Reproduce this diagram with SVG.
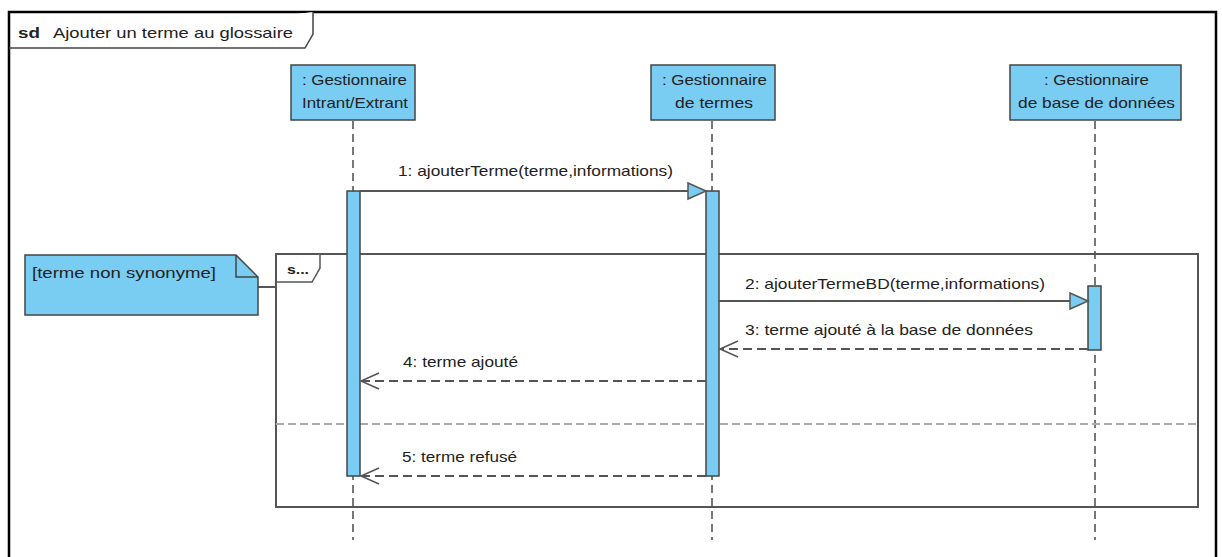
<svg xmlns="http://www.w3.org/2000/svg" width="1222" height="557" viewBox="0 0 1222 557">
<defs>
<style>
text{font-family:"Liberation Sans",Arial,sans-serif;font-size:15px;fill:#222}
.box{fill:#79cdf2;stroke:#444;stroke-width:1.5}
.life{stroke:#777;stroke-width:2;stroke-dasharray:8,5;fill:none}
.act{fill:#79cdf2;stroke:#444;stroke-width:1.5}
.msg{stroke:#555;stroke-width:2;fill:none}
.ret{stroke:#555;stroke-width:2;stroke-dasharray:9,5;fill:none}
.open{stroke:#555;stroke-width:1.5;fill:none}
.tri{fill:#79cdf2;stroke:#555;stroke-width:1.5}
</style>
</defs>
<rect width="1222" height="557" fill="#fff"/>
<g id="frame">
<path d="M9,560 V12 H1216 V560" fill="none" stroke="#000" stroke-width="2.5"/>
<path d="M9,48 H305 L313,34 V12" fill="#fff" stroke="#444" stroke-width="1.5"/>
<text x="18" y="38" style="font-weight:bold" textLength="22" lengthAdjust="spacingAndGlyphs">sd</text>
<text x="53" y="38" textLength="240" lengthAdjust="spacingAndGlyphs">Ajouter un terme au glossaire</text>
</g>
<g id="lifelines">
<line class="life" x1="353" y1="121" x2="353" y2="540"/>
<line class="life" x1="712" y1="121" x2="712" y2="540"/>
<line class="life" x1="1095" y1="121" x2="1095" y2="540"/>
</g>
<g id="fragment">
<rect x="276" y="254" width="922" height="253" fill="none" stroke="#555" stroke-width="2"/>
<path d="M276,282 H312 L320,268 V254" fill="#fff" stroke="#555" stroke-width="1.5"/>
<text x="287" y="274" style="font-weight:bold;font-size:13px" textLength="22" lengthAdjust="spacingAndGlyphs">s...</text>
<line x1="276" y1="424" x2="1198" y2="424" stroke="#aaa" stroke-width="2" stroke-dasharray="8,4"/>
</g>
<g id="note">
<line x1="258" y1="287" x2="276" y2="287" stroke="#555" stroke-width="2"/>
<path d="M25,255 H236 L258,277 V315 H25 Z" class="box"/>
<path d="M236,255 V277 H258" fill="none" stroke="#444" stroke-width="1.5"/>
<text x="32" y="278" textLength="184" lengthAdjust="spacingAndGlyphs">[terme non synonyme]</text>
</g>
<g id="lifeline1">
<rect class="box" x="291" y="65" width="124" height="55"/>
<text x="302" y="85" textLength="105" lengthAdjust="spacingAndGlyphs">: Gestionnaire</text>
<text x="302" y="108" textLength="106" lengthAdjust="spacingAndGlyphs">Intrant/Extrant</text>
<rect class="act" x="347" y="191" width="13" height="285"/>
</g>
<g id="lifeline2">
<rect class="box" x="651" y="65" width="124" height="55"/>
<text x="662" y="85" textLength="105" lengthAdjust="spacingAndGlyphs">: Gestionnaire</text>
<text x="675" y="108" textLength="78" lengthAdjust="spacingAndGlyphs">de termes</text>
<rect class="act" x="706" y="191" width="13" height="285"/>
</g>
<g id="lifeline3">
<rect class="box" x="1010" y="65" width="171" height="55"/>
<text x="1044" y="85" textLength="105" lengthAdjust="spacingAndGlyphs">: Gestionnaire</text>
<text x="1018" y="108" textLength="157" lengthAdjust="spacingAndGlyphs">de base de données</text>
<rect class="act" x="1088" y="286" width="13" height="64"/>
</g>
<g id="connectors">
<line class="msg" x1="360" y1="191" x2="689" y2="191"/>
<path class="tri" d="M688,183 L706,191 L688,199 Z"/>
<text x="398" y="176" textLength="275" lengthAdjust="spacingAndGlyphs">1: ajouterTerme(terme,informations)</text>
<line class="msg" x1="719" y1="301" x2="1071" y2="301"/>
<path class="tri" d="M1070,293 L1088,301 L1070,309 Z"/>
<text x="745" y="289" textLength="300" lengthAdjust="spacingAndGlyphs">2: ajouterTermeBD(terme,informations)</text>
<line class="ret" x1="1088" y1="349" x2="721" y2="349"/>
<path class="open" d="M738,341 L720,349 L738,357"/>
<text x="745" y="335" textLength="288" lengthAdjust="spacingAndGlyphs">3: terme ajouté à la base de données</text>
<line class="ret" x1="706" y1="381" x2="362" y2="381"/>
<path class="open" d="M379,373 L361,381 L379,389"/>
<text x="403" y="367" textLength="115" lengthAdjust="spacingAndGlyphs">4: terme ajouté</text>
<line class="ret" x1="706" y1="476" x2="362" y2="476"/>
<path class="open" d="M379,468 L361,476 L379,484"/>
<text x="402" y="462" textLength="115" lengthAdjust="spacingAndGlyphs">5: terme refusé</text>
</g>
</svg>
